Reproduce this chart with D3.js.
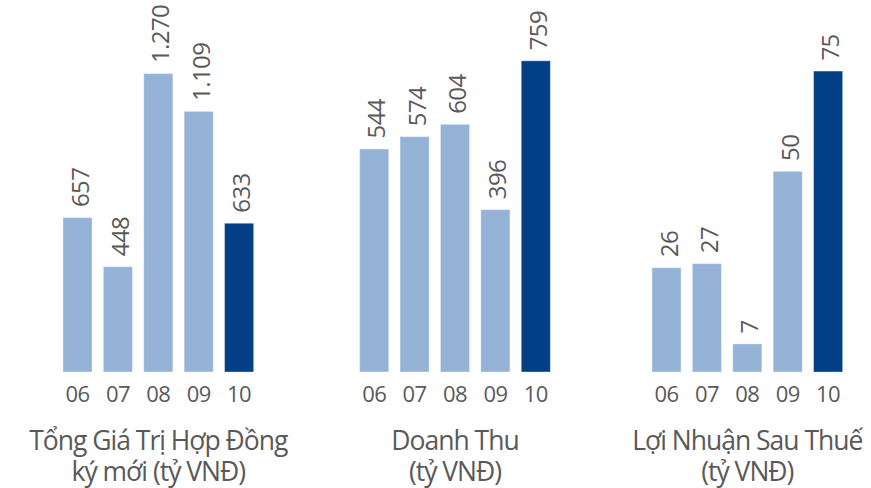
<!DOCTYPE html>
<html>
<head>
<meta charset="utf-8">
<script src="https://cdn.jsdelivr.net/npm/d3@7"></script>
<style>
  html, body { margin: 0; padding: 0; background: #ffffff; }
  svg { display: block; }
  text { font-family: "Open Sans", "Noto Sans", sans-serif; fill: #595959; }
</style>
</head>
<body>
<svg id="chart" width="871" height="488"></svg>
<script>
// Years shown under every panel
const years = ["06", "07", "08", "09", "10"];

// Panel series (tỷ VNĐ)
const contractValues = [657, 448, 1270, 1109, 633];
const revenueValues  = [544, 574, 604, 396, 759];
const profitValues   = [26, 27, 7, 50, 75];

// Value-axis maxima for each panel
const axisMax = [1400, 800, 80];

// Panel titles (two lines each)
const titles = [
  ["Tổng Giá Trị Hợp Đồng", "ký mới (tỷ VNĐ)"],
  ["Doanh Thu", "(tỷ VNĐ)"],
  ["Lợi Nhuận Sau Thuế", "(tỷ VNĐ)"]
];

const series = [contractValues, revenueValues, profitValues];

// Layout
const svg = d3.select("#chart");
const baseline = 372;
const panelCenters = [158.3, 455, 747.3];
const bandWidth = 202;
const plotTops = [43, 44, 51];
const lightBlue = "#95b3d7";
const darkBlue = "#033f87";

// Thousands separator "." as used in Vietnamese
const fmt = v => d3.format(",")(v).replace(/,/g, ".");

series.forEach((values, i) => {
  const cx = panelCenters[i];
  const x = d3.scaleBand()
    .domain(years)
    .range([cx - bandWidth / 2, cx + bandWidth / 2])
    .paddingInner(0.28)
    .paddingOuter(0.14);

  const y = d3.scaleLinear()
    .domain([0, axisMax[i]])
    .range([baseline, plotTops[i]]);

  const g = svg.append("g");

  // Bars: latest year highlighted in dark blue
  g.selectAll("rect")
    .data(values)
    .join("rect")
    .attr("x", (d, j) => x(years[j]))
    .attr("y", d => y(d))
    .attr("width", x.bandwidth())
    .attr("height", d => baseline - y(d))
    .attr("fill", (d, j) => j === values.length - 1 ? darkBlue : lightBlue)
    .attr("stroke", "rgba(255,255,255,0.35)")
    .attr("stroke-width", 1);

  // Rotated value labels above the bars
  g.selectAll("text.value")
    .data(values)
    .join("text")
    .attr("class", "value")
    .attr("transform", (d, j) => {
      const bx = x(years[j]) + x.bandwidth() / 2 + 11;
      const by = y(d) - 10.5;
      return `translate(${bx},${by}) rotate(-90)`;
    })
    .attr("text-anchor", "start")
    .style("font-size", "24px")
    .style("letter-spacing", "-0.6px")
    .text(d => fmt(d));

  // Category axis labels
  const axis = d3.axisBottom(x).tickSize(0).tickPadding(0);
  const ag = g.append("g")
    .attr("transform", `translate(0,${baseline})`)
    .call(axis);
  ag.select(".domain").remove();
  ag.selectAll(".tick text")
    .attr("y", 29.5)
    .attr("dy", null)
    .attr("fill", "#595959")
    .style("font-family", "'Open Sans', 'Noto Sans', sans-serif")
    .style("font-size", "22px")
    .style("letter-spacing", "-0.6px");

  // Panel title
  g.selectAll("text.title")
    .data(titles[i])
    .join("text")
    .attr("class", "title")
    .attr("x", cx)
    .attr("y", (d, k) => 450 + k * 31)
    .attr("text-anchor", "middle")
    .style("font-size", "26.5px")
    .style("letter-spacing", "-1px")
    .text(d => d);
});
</script>
</body>
</html>
